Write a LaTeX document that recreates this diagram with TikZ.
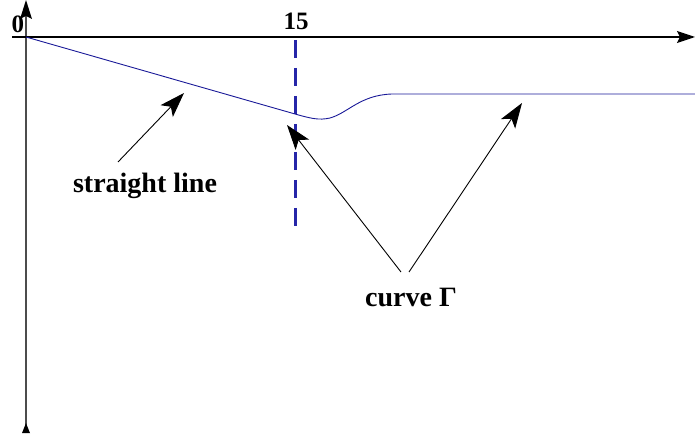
\documentclass[tikz,border=0pt]{standalone}
\usepackage{fontspec}
\setmainfont{Liberation Serif}
\usetikzlibrary{arrows.meta}
\tikzset{
  lbl/.style={font=\fontsize{28}{30}\selectfont\bfseries, inner sep=0pt},
  tick/.style={font=\fontsize{25}{27}\selectfont\bfseries, inner sep=0pt},
  pointer/.style={-{Stealth[length=25pt,width=17pt,inset=6pt]}, line width=0.9pt},
}
\begin{document}
\begin{tikzpicture}[x=1pt,y=-1pt,line cap=butt,line join=round]
			\useasboundingbox (0,0) rectangle (695,438);
			% axes
			\coordinate (ybot) at (26,433);
			\coordinate (ytop) at (26,0);
			\coordinate (yneck) at (26,16);
			\coordinate (xleft) at (12,37);
			\coordinate (xright) at (695,37);
			\draw[gray!60!black,line width=1.5pt] (ybot) -- (yneck);
			\fill[black] (ybot) ++(-4,0) -- ++(8,0) -- ++(-4,-10) -- cycle;
			\fill[black] (ytop) -- ++(6,19) -- (yneck) -- ++(-6,3) -- cycle;
			\draw[line width=1.3pt,-{Stealth[length=18pt,width=12pt,inset=3pt]}] (xleft) -- (xright);
			\node[tick] (zero) at (18,24) {0};
			\node[tick] (fifteen) at (296,21) {15};
			% dashed cut at 15
			\draw[blue!60!black!85,line width=3pt,dash pattern=on 18pt off 10pt] (295,40) -- (295,232);
			% curve
			\draw[blue!55!black!90,line width=0.9pt] (26,37) -- (295,114)
				.. controls (311,118.5) and (319,120.5) .. (330,118)
				.. controls (348,113) and (360,95) .. (392,94) -- (695,94);
			% labels and pointers
			\node[lbl] (straight) at (145,186) {straight line};
			\node[lbl] (curve) at (411,298) {curve Γ};
			\coordinate (sfoot) at (118,162);
			\coordinate (cfoota) at (401,272);
			\coordinate (cfootb) at (409,272);
			\coordinate (stip) at (184,93);
			\coordinate (ctipa) at (287,125);
			\coordinate (ctipb) at (522,103);
			\draw[pointer] (sfoot) -- (stip);
			\draw[pointer] (cfoota) -- (ctipa);
			\draw[pointer] (cfootb) -- (ctipb);
		\end{tikzpicture}
\end{document}
